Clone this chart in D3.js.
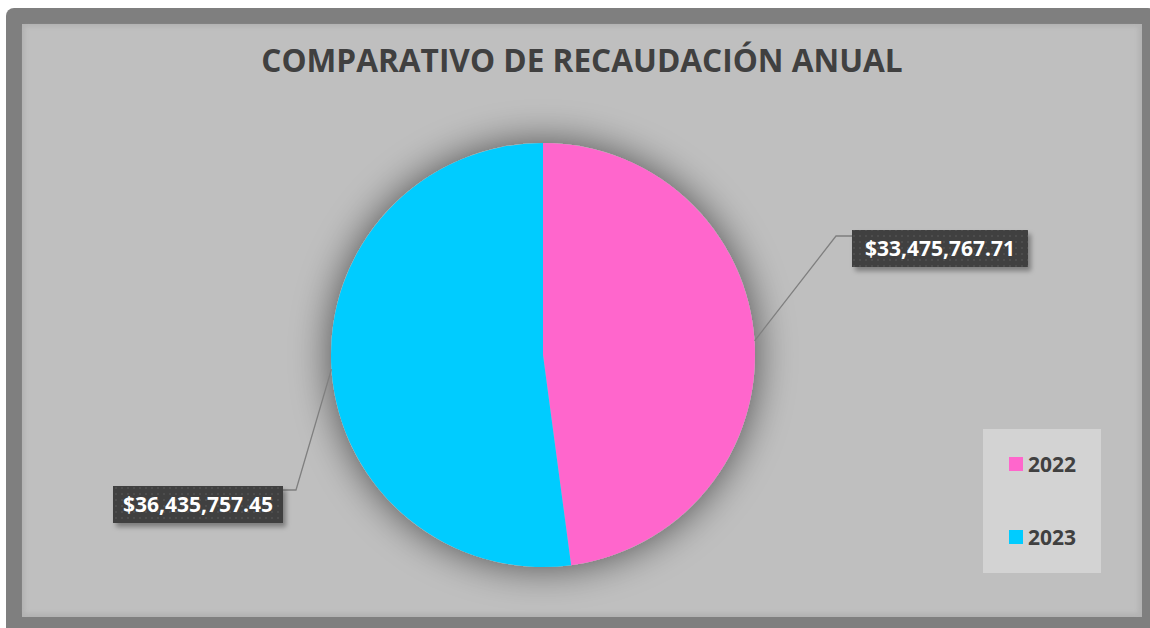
<!DOCTYPE html>
<html><head><meta charset="utf-8">
<script src="https://cdn.jsdelivr.net/npm/d3@7"></script>
<style>html,body{margin:0;padding:0;background:#fff;}svg{display:block;}</style>
</head><body>
<svg id="c" width="1150" height="628"></svg>
<script>
const title = "COMPARATIVO DE RECAUDACIÓN ANUAL";
const categories = ["2022", "2023"];
const values = [33475767.71, 36435757.45];
const labels = ["$33,475,767.71", "$36,435,757.45"];
const colors = ["#ff66cc", "#00ccff"];

const svg = d3.select("#c");
const defs = svg.append("defs");

const pat = defs.append("pattern").attr("id","dots").attr("width",6).attr("height",6).attr("patternUnits","userSpaceOnUse");
pat.append("rect").attr("width",6).attr("height",6).attr("fill","#404040");
pat.append("rect").attr("x",1).attr("y",1).attr("width",2).attr("height",2).attr("fill","#4e4e4e");

const glow = defs.append("filter").attr("id","glow").attr("x","-40%").attr("y","-40%").attr("width","180%").attr("height","180%");
glow.append("feGaussianBlur").attr("in","SourceAlpha").attr("stdDeviation",20).attr("result","b");
glow.append("feComponentTransfer").attr("in","b").attr("result","b2").append("feFuncA").attr("type","linear").attr("slope",0.6);
const gm = glow.append("feMerge"); gm.append("feMergeNode").attr("in","b2"); gm.append("feMergeNode").attr("in","SourceGraphic");

const sh = defs.append("filter").attr("id","sh").attr("x","-20%").attr("y","-30%").attr("width","140%").attr("height","180%");
sh.append("feDropShadow").attr("dx",3).attr("dy",4).attr("stdDeviation",2.5).attr("flood-color","#000").attr("flood-opacity",0.35);

// frame
svg.append("rect").attr("x",6).attr("y",8).attr("width",1150).attr("height",640).attr("rx",8).attr("fill","#7f7f7f");
svg.append("rect").attr("x",22).attr("y",24).attr("width",1120).attr("height",593).attr("fill","#b3b3b3");
svg.append("rect").attr("x",25).attr("y",27).attr("width",1113).attr("height",586).attr("fill","#bfbfbf").style("filter","blur(2px)");

svg.append("text").attr("x",582).attr("y",72).attr("text-anchor","middle")
  .attr("font-family","'Open Sans', sans-serif").attr("font-weight","bold").attr("font-size",31.6)
  .attr("fill","#404040").text(title);

const cx = 543, cy = 355, r = 212;
const pie = d3.pie().sort(null).value(d => d)(values);
const arc = d3.arc().innerRadius(0).outerRadius(r);
const g = svg.append("g").attr("transform",`translate(${cx},${cy})`);
g.append("circle").attr("r",r).attr("fill","#bfbfbf").attr("filter","url(#glow)");
g.selectAll("path.s").data(pie).join("path").attr("class","s").attr("d",arc).attr("fill",(d,i)=>colors[i]);

// leader lines & labels
const boxes = [
  {x:852, y:230, w:176, h:37, elbow:[836,236], end:[852,236]},
  {x:113, y:486, w:170, h:37, elbow:[296,490], end:[283,490]}
];
pie.forEach((d,i) => {
  const a = (d.startAngle + d.endAngle)/2;
  const p0 = [cx + r*Math.sin(a), cy - r*Math.cos(a)];
  const b = boxes[i];
  svg.append("polyline").attr("points",[p0,b.elbow,b.end].map(p=>p.join(",")).join(" "))
    .attr("fill","none").attr("stroke","#7f7f7f").attr("stroke-width",1.3);
  svg.append("rect").attr("x",b.x).attr("y",b.y).attr("width",b.w).attr("height",b.h)
    .attr("fill","url(#dots)").attr("filter","url(#sh)");
  svg.append("text").attr("x",b.x+b.w/2).attr("y",b.y+b.h/2+7.5).attr("text-anchor","middle")
    .attr("font-family","'Open Sans', sans-serif").attr("font-weight","bold").attr("font-size",21)
    .attr("fill","#fff").text(labels[i]);
});

// legend
svg.append("rect").attr("x",983).attr("y",429).attr("width",118).attr("height",144).attr("fill","#d3d3d3");
const ly = d3.scalePoint().domain(categories).range([464, 537]);
const lg = svg.selectAll("g.lg").data(categories).join("g").attr("class","lg")
  .attr("transform",d=>`translate(1009,${ly(d)})`);
lg.append("rect").attr("x",0).attr("y",-7).attr("width",14).attr("height",14).attr("fill",(d,i)=>colors[i]);
lg.append("text").attr("x",19).attr("y",8).attr("font-family","'Open Sans', sans-serif").attr("font-weight","bold")
  .attr("font-size",21).attr("fill","#404040").text(d=>d);
</script>
</body></html>
